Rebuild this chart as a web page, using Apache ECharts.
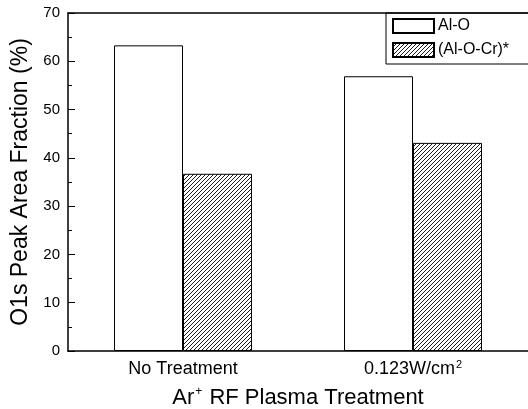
<!DOCTYPE html>
<html>
<head>
<meta charset="utf-8">
<script src="https://cdn.jsdelivr.net/npm/echarts@6/dist/echarts.min.js"></script>
<style>
  html, body { margin: 0; padding: 0; background: #fff; }
  #chart { width: 528px; height: 409px; }
</style>
</head>
<body>
<div id="chart"></div>
<script>
// data
const categories = ['No Treatment', '0.123W/cm{sup|2}']
const alO = [63.3, 56.9]
const alOCr = [36.7, 43.1]
const yTicks = { min: 0, max: 70, step: 10 }

// hatch pattern "/" for the (Al-O-Cr)* bars
function hatch() {
  const s = 4
  const c = document.createElement('canvas')
  c.width = s
  c.height = s
  const ctx = c.getContext('2d')
  ctx.fillStyle = '#fff'
  ctx.fillRect(0, 0, s, s)
  ctx.strokeStyle = '#000'
  ctx.lineWidth = 0.9
  ctx.beginPath()
  ctx.moveTo(-1, s + 1); ctx.lineTo(s + 1, -1)
  ctx.moveTo(-1, 1); ctx.lineTo(1, -1)
  ctx.moveTo(s - 1, s + 1); ctx.lineTo(s + 1, s - 1)
  ctx.stroke()
  return c
}

const font = 'Liberation Sans, Arial, sans-serif'
// superscript: small token stuck to the top of the line
const sup = { fontSize: 11, verticalAlign: 'top', lineHeight: 6, padding: [0, 0, 0, 1], color: '#000', fontFamily: font }

const chart = echarts.init(document.getElementById('chart'))
chart.setOption({
  animation: false,
  textStyle: { fontFamily: font, color: '#000' },
  grid: { left: 68, right: 0, top: 13, bottom: 58, outerBoundsMode: 'none', containLabel: false },
  legend: {
    orient: 'vertical',
    left: 386,
    top: 13,
    padding: [5, 20, 6, 6],
    itemGap: 8,
    itemWidth: 41,
    itemHeight: 14,
    borderColor: '#000',
    borderWidth: 1,
    textStyle: { fontSize: 16, color: '#000', padding: [0, 0, 0, -1] },
    data: [
      { name: 'Al-O', icon: 'rect' },
      { name: '(Al-O-Cr)*', icon: 'rect' }
    ]
  },
  xAxis: [
    {
      type: 'category',
      data: categories,
      axisLine: { lineStyle: { color: '#000', width: 1.5 } },
      axisTick: { show: false },
      axisLabel: {
        fontSize: 18,
        lineHeight: 20,
        color: '#000',
        margin: 8,
        formatter: v => v,
        rich: { sup: sup }
      },
      name: 'Ar{sup|+} RF Plasma Treatment',
      nameLocation: 'middle',
      nameGap: 35,
      nameTextStyle: {
        fontSize: 22,
        lineHeight: 24,
        color: '#000',
        rich: { sup: Object.assign({}, sup, { fontSize: 12, lineHeight: 6, padding: [0, 1, 0, 1] }) }
      }
    },
    {
      type: 'category',
      position: 'top',
      data: categories,
      axisLine: { onZero: false, lineStyle: { color: '#000', width: 1.5 } },
      axisTick: { show: false },
      axisLabel: { show: false }
    }
  ],
  yAxis: {
    type: 'value',
    min: yTicks.min,
    max: yTicks.max,
    interval: yTicks.step,
    name: 'O1s Peak Area Fraction (%)',
    nameLocation: 'middle',
    nameGap: 36,
    nameTextStyle: { fontSize: 23, color: '#000' },
    axisLine: { show: true, lineStyle: { color: '#000', width: 1.5 } },
    axisTick: { show: true, inside: true, length: 7, lineStyle: { color: '#000' } },
    minorTick: { show: true, splitNumber: 2, length: 4, lineStyle: { color: '#000' } },
    axisLabel: { fontSize: 15, color: '#000', margin: 8 },
    splitLine: { show: false }
  },
  series: [
    {
      name: 'Al-O',
      type: 'bar',
      data: alO,
      barWidth: 69,
      barGap: '0%',
      itemStyle: { color: '#fff', borderColor: '#000', borderWidth: 1 }
    },
    {
      name: '(Al-O-Cr)*',
      type: 'bar',
      data: alOCr,
      barWidth: 69,
      barGap: '0%',
      itemStyle: { color: { image: hatch(), repeat: 'repeat' }, borderColor: '#000', borderWidth: 1 }
    }
  ]
})
</script>
</body>
</html>
